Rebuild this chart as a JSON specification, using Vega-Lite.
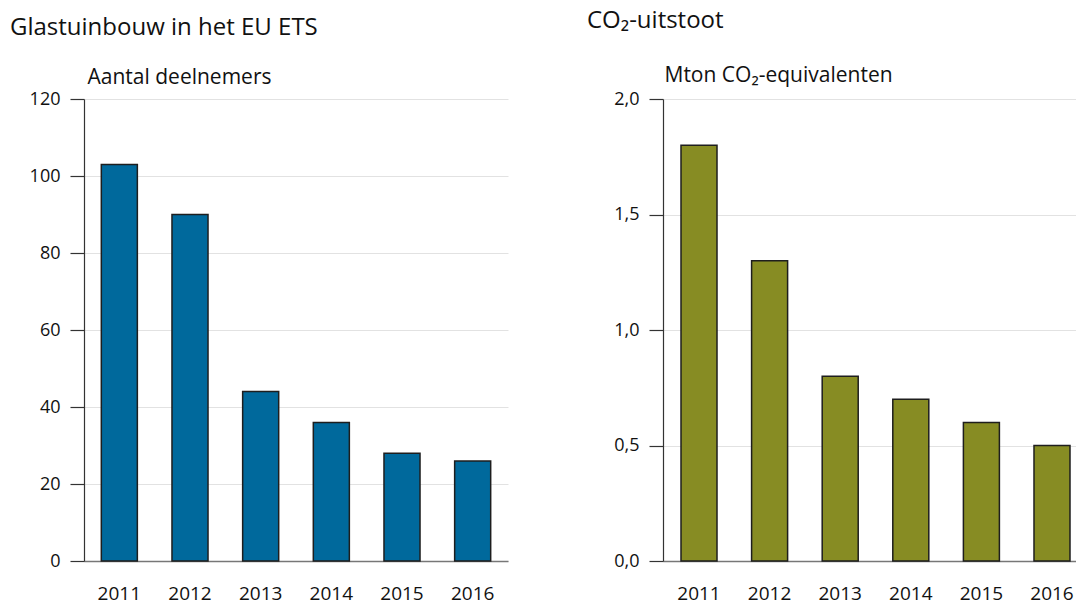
{
  "$schema": "https://vega.github.io/schema/vega-lite/v6.json",
  "background": "white",
  "padding": {"left": 10, "top": 9, "right": 0, "bottom": 0},
  "spacing": 79,
  "config": {
    "font": "Open Sans",
    "view": {"stroke": null},
    "title": {"font": "Open Sans", "fontSize": 24, "fontWeight": "normal", "color": "#111", "anchor": "start", "frame": "group"},
    "axis": {"labelFont": "Open Sans", "labelFontSize": 18, "labelColor": "#111", "titleFont": "Open Sans", "titleFontWeight": "normal", "titleFontSize": 21, "titleColor": "#111"}
  },
  "datasets": {
    "deelnemers": [
      {"jaar": "2011", "waarde": 103},
      {"jaar": "2012", "waarde": 90},
      {"jaar": "2013", "waarde": 44},
      {"jaar": "2014", "waarde": 36},
      {"jaar": "2015", "waarde": 28},
      {"jaar": "2016", "waarde": 26}
    ],
    "uitstoot": [
      {"jaar": "2011", "waarde": 1.8},
      {"jaar": "2012", "waarde": 1.3},
      {"jaar": "2013", "waarde": 0.8},
      {"jaar": "2014", "waarde": 0.7},
      {"jaar": "2015", "waarde": 0.6},
      {"jaar": "2016", "waarde": 0.5}
    ]
  },
  "hconcat": [
    {
      "width": 424,
      "height": 462,
      "title": {"text": "Glastuinbouw in het EU ETS", "dx": -74, "offset": 26},
      "data": {"name": "deelnemers"},
      "mark": {"type": "bar", "color": "#00699c", "stroke": "#1e1e1e", "strokeWidth": 1.5},
      "encoding": {
        "x": {
          "field": "jaar", "type": "nominal",
          "scale": {"paddingInner": 0.49, "paddingOuter": 0.245},
          "axis": {"title": null, "labelAngle": 0, "ticks": false, "labelPadding": 23, "labelFontSize": 19, "domainColor": "#777", "domainWidth": 1.5}
        },
        "y": {
          "field": "waarde", "type": "quantitative",
          "scale": {"domain": [0, 120]},
          "axis": {
            "values": [0, 20, 40, 60, 80, 100, 120],
            "title": "Aantal deelnemers", "titleAngle": 0, "titleAlign": "left", "titleBaseline": "bottom", "titleX": 3, "titleY": -12,
            "tickSize": 14, "tickColor": "#333", "tickWidth": 1.2, "labelPadding": 10, "domainColor": "#333", "domainWidth": 1.2,
            "gridColor": "#e2e2e2", "gridWidth": 1
          }
        }
      }
    },
    {
      "width": 413,
      "height": 462,
      "title": {"text": "CO₂-uitstoot", "dx": -76, "offset": 31},
      "data": {"name": "uitstoot"},
      "mark": {"type": "bar", "color": "#878c23", "stroke": "#1e1e1e", "strokeWidth": 1.5},
      "encoding": {
        "x": {
          "field": "jaar", "type": "nominal",
          "scale": {"paddingInner": 0.49, "paddingOuter": 0.17, "align": 0.75},
          "axis": {"title": null, "labelAngle": 0, "ticks": false, "labelPadding": 23, "labelFontSize": 19, "domainColor": "#777", "domainWidth": 1.5}
        },
        "y": {
          "field": "waarde", "type": "quantitative",
          "scale": {"domain": [0, 2]},
          "axis": {
            "values": [0, 0.5, 1, 1.5, 2],
            "labelExpr": "replace(format(datum.value, '.1f'), '.', ',')",
            "title": "Mton CO₂-equivalenten", "titleAngle": 0, "titleAlign": "left", "titleBaseline": "bottom", "titleX": 1, "titleY": -14,
            "tickSize": 14, "tickColor": "#333", "tickWidth": 1.2, "labelPadding": 10, "domainColor": "#333", "domainWidth": 1.2,
            "gridColor": "#e2e2e2", "gridWidth": 1
          }
        }
      }
    }
  ]
}
